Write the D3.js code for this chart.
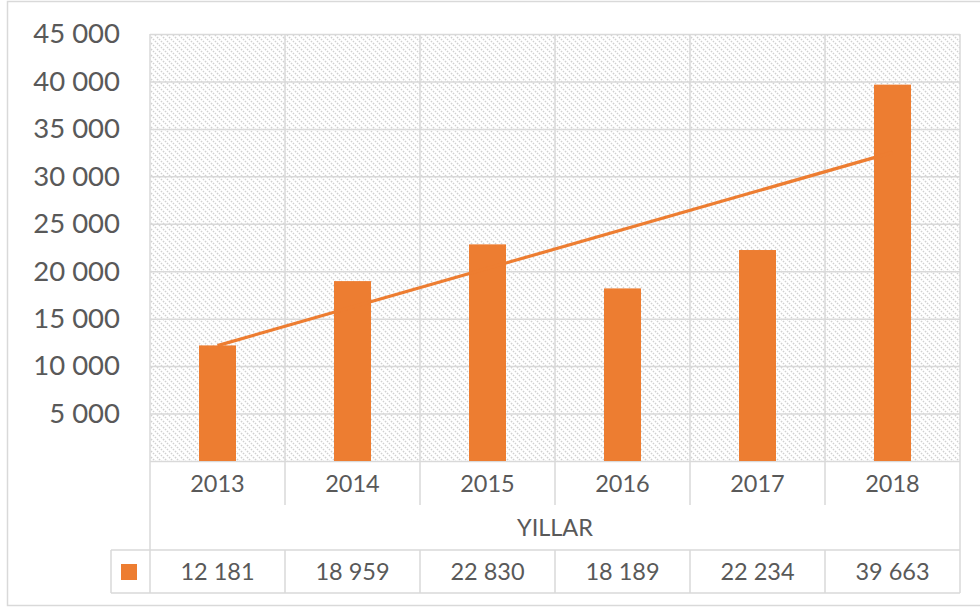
<!DOCTYPE html>
<html>
<head>
<meta charset="utf-8">
<script src="https://cdn.jsdelivr.net/npm/d3@7"></script>
<style>
  body { margin: 0; background: #fff; }
  svg { display: block; font-family: Lato, "Open Sans", sans-serif; }
</style>
</head>
<body>
<div id="chart"></div>
<script>
// data
var years = ["2013", "2014", "2015", "2016", "2017", "2018"];
var values = [12181, 18959, 22830, 18189, 22234, 39663];
var yTicks = [5000, 10000, 15000, 20000, 25000, 30000, 35000, 40000, 45000];
var axisTitle = "YILLAR";

// dimensions
var W = 980, H = 607;
var plot = {left: 150, right: 960, top: 34, bottom: 461};
var tableLeft = 111, labelRowBottom = 505, rowTop = 550, rowBottom = 593;
var orange = "#ED7D31", grid = "#d9d9d9", txt = "#595959";

var fmt = d3.formatLocale({decimal: ",", thousands: " ", grouping: [3], currency: ["", ""]}).format(",d");

var x = d3.scaleBand().domain(years).range([plot.left, plot.right]).padding(0);
var y = d3.scaleLinear().domain([0, 45000]).range([plot.bottom, plot.top]);
var barW = x.bandwidth() * 0.274;

var svg = d3.select("#chart").append("svg")
    .attr("width", W)
    .attr("height", H);

// hatch pattern for the plot area
var pat = svg.append("defs").append("pattern")
    .attr("id", "hatch")
    .attr("patternUnits", "userSpaceOnUse")
    .attr("width", 6).attr("height", 6);
pat.append("path")
    .attr("d", "M-1,-1 L7,7 M-4,2 L1,7 M2,-4 L7,1")
    .attr("stroke", "#d0d0d0")
    .attr("stroke-width", 1.5)
    .attr("stroke-dasharray", "1.6,1.2");

// outer frame (cut off on the right)
svg.append("path")
    .attr("d", "M990,1.5 H7.5 V605.5 H990")
    .attr("fill", "none")
    .attr("stroke", grid)
    .attr("stroke-width", 1.5);

svg.append("rect")
    .attr("x", plot.left).attr("y", plot.top)
    .attr("width", plot.right - plot.left)
    .attr("height", plot.bottom - plot.top)
    .attr("fill", "url(#hatch)");

// horizontal gridlines
svg.append("g")
    .attr("transform", "translate(" + plot.left + ",0)")
    .call(d3.axisLeft(y).tickValues([0].concat(yTicks)).tickSize(-(plot.right - plot.left)).tickFormat(""))
    .call(function(g) {
        g.select(".domain").remove();
        g.selectAll("line").attr("stroke", grid).attr("stroke-width", 1.5);
    });

// vertical gridlines between categories
var bounds = years.map(function(d) { return x(d); });
svg.append("g").selectAll("line")
    .data(bounds.slice(1))
    .enter().append("line")
    .attr("x1", function(d) { return d; })
    .attr("x2", function(d) { return d; })
    .attr("y1", plot.top)
    .attr("y2", labelRowBottom)
    .attr("stroke", grid).attr("stroke-width", 1.5);

// y labels
svg.append("g")
    .attr("transform", "translate(120,0)")
    .call(d3.axisLeft(y).tickValues(yTicks).tickSize(0).tickPadding(0).tickFormat(fmt))
    .call(function(g) {
        g.select(".domain").remove();
        g.selectAll("text")
            .attr("fill", txt)
            .style("font-family", "Lato, 'Open Sans', sans-serif")
            .style("font-size", "27.5px");
    });

// bars
svg.append("g").selectAll("rect")
    .data(values)
    .enter().append("rect")
    .attr("x", function(d, i) { return x(years[i]) + x.bandwidth() / 2 - barW / 2; })
    .attr("y", function(d) { return y(d); })
    .attr("width", barW)
    .attr("height", function(d) { return plot.bottom - y(d); })
    .attr("fill", orange);

// linear trend line
var n = values.length;
var mx = d3.mean(values, function(d, i) { return i; });
var my = d3.mean(values);
var slope = d3.sum(values, function(d, i) { return (i - mx) * (d - my); }) /
            d3.sum(values, function(d, i) { return (i - mx) * (i - mx); });
var icpt = my - slope * mx;
var trend = [0, n - 1].map(function(i) { return [x(years[i]) + x.bandwidth() / 2, icpt + slope * i]; });
svg.append("path")
    .datum(trend)
    .attr("d", d3.line().x(function(d) { return d[0]; }).y(function(d) { return y(d[1]); }))
    .attr("fill", "none")
    .attr("stroke", orange)
    .attr("stroke-width", 3.2);

// table lines
var lines = svg.append("g").attr("stroke", grid).attr("stroke-width", 1.5);
lines.append("line").attr("x1", plot.left).attr("x2", plot.left).attr("y1", plot.top).attr("y2", rowBottom);
lines.append("line").attr("x1", plot.right).attr("x2", plot.right).attr("y1", plot.top).attr("y2", rowBottom);
lines.append("line").attr("x1", tableLeft).attr("x2", tableLeft).attr("y1", rowTop).attr("y2", rowBottom);
lines.append("line").attr("x1", tableLeft).attr("x2", plot.right).attr("y1", rowTop).attr("y2", rowTop);
lines.append("line").attr("x1", tableLeft).attr("x2", plot.right).attr("y1", rowBottom).attr("y2", rowBottom);
lines.selectAll(".cell").data(bounds.slice(1))
    .enter().append("line")
    .attr("x1", function(d) { return d; })
    .attr("x2", function(d) { return d; })
    .attr("y1", rowTop).attr("y2", rowBottom);

// year labels
svg.append("g").selectAll("text")
    .data(years)
    .enter().append("text")
    .attr("x", function(d) { return x(d) + x.bandwidth() / 2; })
    .attr("y", 484)
    .attr("dy", "0.35em")
    .attr("text-anchor", "middle")
    .attr("fill", txt)
    .style("font-size", "23.5px")
    .text(function(d) { return d; });

// axis title
svg.append("text")
    .attr("x", (plot.left + plot.right) / 2)
    .attr("y", 528)
    .attr("dy", "0.35em")
    .attr("text-anchor", "middle")
    .attr("fill", txt)
    .style("font-size", "23.5px")
    .text(axisTitle);

// data table row
svg.append("rect")
    .attr("x", 121).attr("y", 564)
    .attr("width", 16).attr("height", 16)
    .attr("fill", orange);
svg.append("g").selectAll("text")
    .data(values)
    .enter().append("text")
    .attr("x", function(d, i) { return x(years[i]) + x.bandwidth() / 2; })
    .attr("y", 572)
    .attr("dy", "0.35em")
    .attr("text-anchor", "middle")
    .attr("fill", txt)
    .style("font-size", "23.5px")
    .text(function(d) { return fmt(d); });
</script>
</body>
</html>
